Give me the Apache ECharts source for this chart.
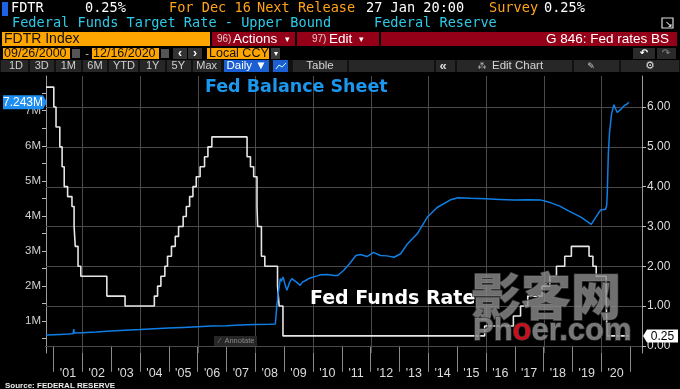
<!DOCTYPE html>
<html><head><meta charset="utf-8">
<script src="https://cdn.jsdelivr.net/npm/echarts@6/dist/echarts.min.js"></script>
<style>html,body{margin:0;padding:0;background:#000;overflow:hidden}#c{width:680px;height:389px;}</style>
</head><body><div id="c"></div>
<script>
// ---------------- DATA ----------------
const ffDates = ['2000-09-26','2001-01-03','2001-01-31','2001-03-20','2001-04-18','2001-05-15','2001-06-27','2001-08-21','2001-09-17','2001-10-02','2001-11-06','2001-12-11','2002-11-06','2003-06-25','2004-06-30','2004-08-10','2004-09-21','2004-11-10','2004-12-14','2005-02-02','2005-03-22','2005-05-03','2005-06-30','2005-08-09','2005-09-20','2005-11-01','2005-12-13','2006-01-31','2006-03-28','2006-05-10','2006-06-29','2007-09-18','2007-10-31','2007-12-11','2008-01-22','2008-01-30','2008-03-18','2008-04-30','2008-10-08','2008-10-29','2008-12-16','2015-12-16','2016-12-14','2017-03-15','2017-06-14','2017-12-13','2018-03-21','2018-06-13','2018-09-26','2018-12-19','2019-07-31','2019-09-18','2019-10-30','2020-03-03','2020-03-15','2020-12-16'];
const ffRates = [6.50,6.00,5.50,5.00,4.50,4.00,3.75,3.50,3.00,2.50,2.00,1.75,1.25,1.00,1.25,1.50,1.75,2.00,2.25,2.50,2.75,3.00,3.25,3.50,3.75,4.00,4.25,4.50,4.75,5.00,5.25,4.75,4.50,4.25,3.50,3.00,2.25,2.00,1.50,1.00,0.25,0.50,0.75,1.00,1.25,1.50,1.75,2.00,2.25,2.50,2.25,2.00,1.75,1.25,0.25,0.25];

const bsDates = ['2000-09-27','2000-12-27','2001-03-28','2001-06-27','2001-09-05','2001-09-12','2001-09-19','2001-12-26','2002-06-26','2002-12-25','2003-06-25','2003-12-31','2004-06-30','2004-12-29','2005-06-29','2005-12-28','2006-06-28','2006-12-27','2007-06-27','2007-12-26','2008-06-25','2008-09-10','2008-09-17','2008-09-24','2008-10-01','2008-10-08','2008-10-15','2008-10-29','2008-11-12','2008-11-26','2008-12-17','2008-12-31','2009-01-14','2009-02-04','2009-02-25','2009-03-11','2009-04-08','2009-05-06','2009-06-17','2009-07-22','2009-08-19','2009-09-23','2009-11-25','2010-02-24','2010-04-07','2010-06-30','2010-09-29','2010-11-10','2011-01-26','2011-04-13','2011-06-29','2011-08-24','2011-11-16','2012-02-08','2012-05-02','2012-07-25','2012-10-24','2013-01-16','2013-04-10','2013-08-14','2013-12-18','2014-04-23','2014-10-08','2015-01-14','2015-06-24','2015-12-30','2016-06-29','2016-12-28','2017-06-28','2017-11-29','2018-03-28','2018-07-25','2018-11-07','2019-04-24','2019-08-28','2019-09-25','2019-10-23','2019-12-25','2020-02-26','2020-03-11','2020-03-18','2020-03-25','2020-04-01','2020-04-15','2020-04-29','2020-05-13','2020-06-10','2020-06-24','2020-07-22','2020-08-12','2020-09-16','2020-10-21','2020-11-18','2020-12-16'];
const bsValues = [0.60,0.61,0.62,0.63,0.64,0.77,0.66,0.67,0.69,0.72,0.74,0.76,0.78,0.80,0.82,0.84,0.86,0.87,0.89,0.90,0.91,0.92,1.07,1.29,1.49,1.57,1.78,1.97,2.21,2.14,2.26,2.24,2.02,1.88,1.92,2.11,2.21,2.16,2.09,2.02,2.11,2.15,2.23,2.29,2.32,2.33,2.30,2.30,2.45,2.65,2.87,2.90,2.84,2.96,2.87,2.86,2.82,2.92,3.20,3.49,3.96,4.24,4.46,4.52,4.50,4.49,4.47,4.45,4.46,4.45,4.38,4.28,4.15,3.96,3.76,3.86,3.96,4.17,4.19,4.31,4.67,5.25,5.81,6.37,6.66,6.93,7.17,7.09,6.95,6.96,7.06,7.15,7.18,7.243];

const tickYears = [2001,2002,2003,2004,2005,2006,2007,2008,2009,2010,2011,2012,2013,2014,2015,2016,2017,2018,2019,2020,2021];
const labelYears = [2001,2002,2003,2004,2005,2006,2007,2008,2009,2010,2011,2012,2013,2014,2015,2016,2017,2018,2019,2020];
const yearLabels = ["'01","'02","'03","'04","'05","'06","'07","'08","'09","'10","'11","'12","'13","'14","'15","'16","'17","'18","'19","'20"];
const gridYears = [2002,2004,2006,2008,2010,2012,2014,2016,2018,2020];
const leftTickValues = [1,2,3,4,5,6,7];
const leftTickLabels = ['1M','2M','3M','4M','5M','6M','7M'];
const rightTickValues = [0,1,2,3,4,5,6];
const rightTickLabels = ['0.00','1.00','2.00','3.00','4.00','5.00','6.00'];

// ---------------- CHART ----------------
const T = s => Date.parse(s);
const xMin = T('2000-09-26'), xMax = T('2021-06-01');
const yearTs = tickYears.map(y => Date.UTC(y,0,1));
const labelTs = labelYears.map(y => Date.UTC(y,6,1));
const gridTs = gridYears.map(y => Date.UTC(y,0,1));
const leftMinor = [];
for (let v = 0.5; v < 8; v += 0.5) leftMinor.push(v);

const chart = echarts.init(document.getElementById('c'), null, {renderer:'canvas'});
const axisFont = 'Liberation Sans';
const option = {
  backgroundColor:'#000',
  animation:false,
  grid:{left:46,right:38,top:76,bottom:36,containLabel:false,outerBoundsMode:'none'},
  xAxis:{
    type:'value', min:xMin, max:xMax,
    axisLine:{show:true,lineStyle:{color:'#9a9a9a',width:1}},
    axisTick:{show:true,customValues:yearTs,length:26,lineStyle:{color:'#8a8a8a'}},
    axisLabel:{customValues:labelTs,margin:14,color:'#dcdcdc',fontFamily:axisFont,fontSize:12.5,
      formatter:v=>{const i=labelTs.indexOf(v);return i>=0?yearLabels[i]:'';}},
    splitLine:{show:false}
  },
  yAxis:[{
    type:'value', position:'left', min:0.09, max:7.99,
    axisLine:{show:true,lineStyle:{color:'#9a9a9a'}},
    axisTick:{show:true,customValues:leftMinor,length:4,lineStyle:{color:'#bbb'}},
    axisLabel:{customValues:leftTickValues,margin:5,color:'#d0d0d0',fontFamily:axisFont,fontSize:11.5,
      formatter:v=>{const i=leftTickValues.indexOf(v);return i>=0?leftTickLabels[i]:'';}},
    splitLine:{show:false}
  },{
    type:'value', position:'right', min:-0.18, max:6.78,
    axisLine:{show:true,lineStyle:{color:'#9a9a9a'}},
    axisTick:{show:true,customValues:rightTickValues,length:4,lineStyle:{color:'#bbb'}},
    axisLabel:{customValues:rightTickValues,margin:5,color:'#dcdcdc',fontFamily:axisFont,fontSize:12,
      formatter:v=>{const i=rightTickValues.indexOf(v);return i>=0?rightTickLabels[i]:'';}},
    splitLine:{show:false}
  }],
  series:[{
    name:'Fed Funds Rate', type:'line', step:'end', xAxisIndex:0, yAxisIndex:1,
    data: ffDates.map((d,i)=>[T(d),ffRates[i]]),
    showSymbol:false, symbol:'none', lineStyle:{color:'#e6e6e6',width:1.6}, z:3
  },{
    name:'Fed Balance Sheet', type:'line', xAxisIndex:0, yAxisIndex:0,
    data: bsDates.map((d,i)=>[T(d),bsValues[i]]),
    showSymbol:false, symbol:'none', lineStyle:{color:'#0f7fe6',width:1.5}, z:4
  }]
};
chart.setOption(option);

// ---------------- DECORATION ----------------
const MONO = 'DejaVu Sans Mono', SANS = 'Liberation Sans';
const ORANGE_T = '#ffa31a', CYAN = '#2ccbe9', OBOX = '#ffa500', RED = '#950019', BLUE = '#1b5fd2';
function txt(x,y,s,fill,font,align,extra){return Object.assign({type:'text',x:x,y:y,silent:true,z:100,
  style:{text:s,fill:fill,font:font,textAlign:align||'left',align:align||'left',textVerticalAlign:'middle',verticalAlign:'middle'}},extra||{});}
function box(x,y,w,h,fill,z){return {type:'rect',silent:true,z:z||90,shape:{x:x,y:y,width:w,height:h},style:{fill:fill}};}
function gline(x1,y1,x2,y2){return {type:'line',silent:true,z:2,shape:{x1:x1,y1:y1,x2:x2,y2:y2},style:{stroke:'#4a4a4a',lineWidth:1}};}

const G = [];
const gTop = 76, gBottom = 389-36, gLeft = 46, gRight = 680-38;
gridTs.forEach(t=>{const px=Math.round(chart.convertToPixel({xAxisIndex:0},t))+0.5; G.push(gline(px,gTop,px,gBottom));});
rightTickValues.forEach(v=>{const py=Math.round(chart.convertToPixel({yAxisIndex:1},v))+0.5; G.push(gline(gLeft,py,gRight,py));});

// row 1
G.push(box(2,2,6,14,'#1e62e4'));
G.push(txt(11,8.5,'FDTR','#fff','13.6px '+MONO));
G.push(txt(85,8.5,'0.25%','#fff','13.6px '+MONO));
G.push(txt(169,8.5,'For Dec 16',ORANGE_T,'13.6px '+MONO));
G.push(txt(257,8.5,'Next Release',ORANGE_T,'13.6px '+MONO));
G.push(txt(366,8.5,'27 Jan 20:00','#fff','13.6px '+MONO));
G.push(txt(489,8.5,'Survey',ORANGE_T,'13.6px '+MONO));
G.push(txt(544,8.5,'0.25%','#fff','13.6px '+MONO));
// row 2
G.push(txt(12,23.5,'Federal Funds Target Rate - Upper Bound',CYAN,'13.6px '+MONO));
G.push(txt(374,23.5,'Federal Reserve',CYAN,'13.6px '+MONO));
G.push({type:'rect',silent:true,z:100,shape:{x:662,y:18,width:11,height:10},style:{fill:'none',stroke:'#ddd',lineWidth:1.2}});
G.push(txt(669,25,'↘','#fff','9px '+SANS,'center'));
// row 3
G.push(box(2,32,208,14,OBOX));
G.push(txt(4,39.5,'FDTR Index','#111','14px '+SANS));
G.push(box(212,32,83,14,RED));
G.push(box(297,32,82,14,RED));
G.push(box(381,32,296,14,RED));
G.push(txt(217,39.5,'96)','#e0c8c8','10px '+SANS));
G.push(txt(233,39.5,'Actions','#fff','13.5px '+SANS));
G.push(txt(287,39.5,'▾','#fff','9px '+SANS,'center'));
G.push(txt(312,39.5,'97)','#e0c8c8','10px '+SANS));
G.push(txt(329,39.5,'Edit','#fff','13.5px '+SANS));
G.push(txt(361,39.5,'▾','#fff','9px '+SANS,'center'));
G.push(txt(669,39.5,'G 846: Fed rates BS','#fff','13.5px '+SANS,'right'));
// row 4
G.push(box(3,48,67,11,OBOX));
G.push(txt(4,53.7,'09/26/2000','#111','12.5px '+SANS));
G.push(box(72,49,8,9,'#555'));
G.push(txt(87,53.5,'-','#ccc','11px '+SANS,'center'));
G.push(box(92,48,67,11,OBOX));
G.push(txt(93,53.7,'12/16/2020','#111','12.5px '+SANS));
G.push(box(161,49,8,9,'#555'));
G.push(box(173,48,14,11,'#333'));
G.push(txt(180,53.5,'‹','#fff','bold 12px '+SANS,'center'));
G.push(box(188,48,14,11,'#333'));
G.push(txt(195,53.5,'›','#fff','bold 12px '+SANS,'center'));
G.push(box(207,48,62,11,OBOX));
G.push(txt(209,53.7,'Local CCY','#111','12.5px '+SANS));
G.push(box(271,48,9,11,'#3a3a3a'));
G.push(txt(275.5,53.5,'▾','#fff','8px '+SANS,'center'));
G.push(box(633,48,22,11,'#2a2a2a'));
G.push(txt(644,53.5,'↶','#fff','bold 10px DejaVu Sans','center'));
G.push(box(657,48,19,11,'#2a2a2a'));
G.push(txt(666,53.5,'↷','#777','bold 10px DejaVu Sans','center'));
// row 5
G.push(box(0,60,680,12,'#111'));
[[1,28],[30,54],[56,81],[83,107],[109,138],[140,165],[167,191],[193,221],[293,347],[349,434],[436,455],[457,572],[574,619],[621,679]]
  .forEach(c=>G.push(box(c[0],60,c[1]-c[0],12,'#272727')));
const btns=[['1D',16],['3D',41.7],['1M',68.3],['6M',95],['YTD',124],['1Y',152.7],['5Y',178.3],['Max',206.7]];
btns.forEach(b=>G.push(txt(b[1],66.3,b[0],'#cfcfcf','11px '+SANS,'center')));
G.push(box(224,60,45,12,BLUE));
G.push(txt(246.5,66.3,'Daily ▼','#fff','11.5px '+SANS,'center'));
G.push(box(273,60,15,12,BLUE));
G.push({type:'polyline',silent:true,z:100,shape:{points:[[276,69],[279,65],[282,67],[286,63]]},style:{stroke:'#cfe',fill:'none',lineWidth:1}});
G.push(txt(320,66.3,'Table','#d5d5d5','11.5px '+SANS,'center'));
G.push(txt(443,66,'«','#ddd','bold 13px '+SANS,'center'));
G.push(txt(482,66.3,'⁂','#ccc','9px DejaVu Sans','center'));
G.push(txt(492,66.3,'Edit Chart','#d5d5d5','11.5px '+SANS));
G.push(txt(591,66.3,'✎','#ccc','9px DejaVu Sans','center'));
G.push(txt(650,66.3,'⚙','#ddd','11px DejaVu Sans','center'));
// bottom source
G.push(txt(5,386,'Source: FEDERAL RESERVE','#eee','bold 8px '+SANS));
// annotate button
G.push(box(214,336,43,10,'#262626',95));
G.push(txt(219,341,'⁄  Annotate','#8a8a8a','7.5px '+SANS));
// chart titles
G.push(txt(205,87,'Fed Balance Sheet','#1c97ee','bold 17.5px DejaVu Sans'));
G.push(txt(310,299.5,'Fed Funds Rate','#ffffff','bold 19px DejaVu Sans'));

// last value labels positioned from the axes
const lastBs = bsValues[bsValues.length-1];
const lastFf = ffRates[ffRates.length-1];
const yBs = chart.convertToPixel({yAxisIndex:0}, lastBs);
const yFf = chart.convertToPixel({yAxisIndex:1}, lastFf);
G.push({type:'polygon',silent:true,z:110,shape:{points:[[3,yBs-7],[43,yBs-7],[47,yBs],[43,yBs+7],[3,yBs+7]]},style:{fill:'#1f8ef2'}});
G.push(txt(23,yBs+0.5,(lastBs).toFixed(3)+'M','#fff','12px '+SANS,'center',{z:111}));
G.push({type:'polygon',silent:true,z:110,shape:{points:[[643,yFf],[647,yFf-6.5],[678,yFf-6.5],[678,yFf+6.5],[647,yFf+6.5]]},style:{fill:'#fff'}});
G.push(txt(662.5,yFf+0.5,lastFf.toFixed(2),'#000','12px '+SANS,'center',{z:111}));

// watermark
G.push({type:'text',silent:true,z:120,x:471,y:271,style:{text:'影客网',font:'900 50px "Noto Sans CJK SC"',fill:'rgba(140,140,140,0.8)',stroke:'rgba(60,60,60,0.9)',lineWidth:1.5}});
G.push({type:'text',silent:true,z:120,x:473,y:316,style:{text:'{a|Ph}{b|o}{a|er.com}',font:'bold 31px '+SANS,
  rich:{a:{fill:'rgba(140,140,140,0.85)',stroke:'rgba(60,60,60,0.9)',lineWidth:1.5,font:'bold 31px '+SANS},
        b:{fill:'#c8101e',stroke:'rgba(60,60,60,0.9)',lineWidth:1.5,font:'bold 31px '+SANS}}}});

chart.setOption({graphic:{elements:G}});
</script></body></html>
